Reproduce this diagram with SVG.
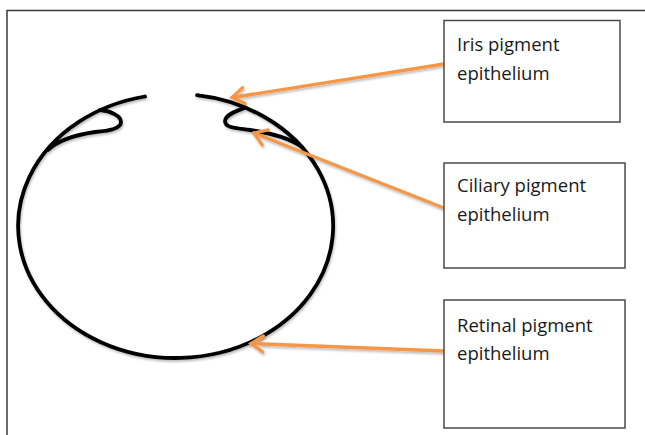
<svg xmlns="http://www.w3.org/2000/svg" width="645" height="435" viewBox="0 0 645 435">
  <style>
    .frame { fill: none; stroke: #3a3a3a; stroke-width: 1.5; }
    .box { fill: #ffffff; stroke: #4a4a4a; stroke-width: 1.5; }
    .label { font-family: "Open Sans", "Liberation Sans", sans-serif; font-size: 18.5px; fill: #1a1a1a; }
    .eye { fill: none; stroke: #000000; stroke-width: 3.8; stroke-linecap: round; stroke-linejoin: round; }
    .arrow { fill: none; stroke: #f79646; stroke-width: 3.3; stroke-linecap: round; }
  </style>
  <defs>
    <marker id="chevron" viewBox="-15 -10 18 20" refX="0" refY="0" markerUnits="userSpaceOnUse" markerWidth="18" markerHeight="20" orient="auto">
      <path d="M-12,-8 L0,0 L-12,8" fill="none" stroke="#f79646" stroke-width="3.3" stroke-linecap="round" stroke-linejoin="miter"/>
    </marker>
    <filter id="shade" x="-10%" y="-10%" width="120%" height="130%">
      <feDropShadow dx="1" dy="2" stdDeviation="1" flood-color="#000000" flood-opacity="0.25"/>
    </filter>
  </defs>

  <rect width="645" height="435" fill="#ffffff"/>
  <!-- page frame: top and left edges -->
  <path class="frame" d="M7,435 L7,10.5 L645,10.5"/>

  <!-- eye cup outline with folds at the rim -->
  <g id="eye-cup" filter="url(#shade)">
    <path class="eye" d="M197,95.2 A157.5,132 0 1 1 145,96.5"/>
    <path class="eye" d="M100,110 C111,111 121,116 121,122 C121,129 108,131 95,132 C75,135 58,140 48,150"/>
    <path class="eye" d="M245,107.6 C236,111 225,115 225,121 C225,128 236,128 250,130 C270,133 290,138 302,147"/>
  </g>

  <g id="connectors" filter="url(#shade)">
    <path class="arrow" d="M444,64 L232,97.5" marker-end="url(#chevron)"/>
    <path class="arrow" d="M444,208 L254,133" marker-end="url(#chevron)"/>
    <path class="arrow" d="M444,351 L251,343.5" marker-end="url(#chevron)"/>
  </g>

  <g id="iris">
    <rect class="box" x="444" y="20.5" width="176" height="101.5"/>
    <text class="label" x="457" y="51">Iris pigment</text>
    <text class="label" x="457" y="80">epithelium</text>
  </g>

  <g id="ciliary">
    <rect class="box" x="444" y="163" width="181" height="105"/>
    <text class="label" x="457" y="192">Ciliary pigment</text>
    <text class="label" x="457" y="221">epithelium</text>
  </g>

  <g id="retinal">
    <rect class="box" x="444" y="300" width="181" height="128"/>
    <text class="label" x="457" y="332">Retinal pigment</text>
    <text class="label" x="457" y="360">epithelium</text>
  </g>
</svg>
